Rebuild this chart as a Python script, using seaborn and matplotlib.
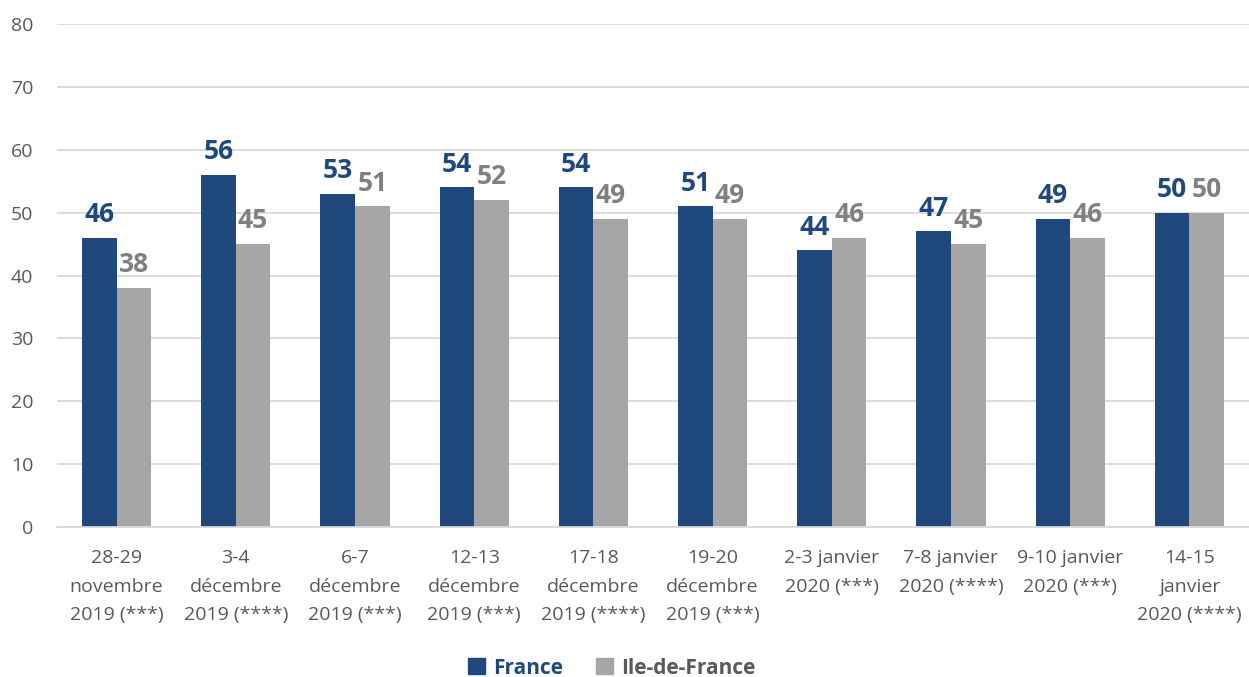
import pandas as pd
import matplotlib
matplotlib.use("Agg")
import matplotlib.pyplot as plt
import seaborn as sns

# Data
categories = [
    "28-29\nnovembre\n2019 (***)",
    "3-4\ndécembre\n2019 (****)",
    "6-7\ndécembre\n2019 (***)",
    "12-13\ndécembre\n2019 (***)",
    "17-18\ndécembre\n2019 (****)",
    "19-20\ndécembre\n2019 (***)",
    "2-3 janvier\n2020 (***)",
    "7-8 janvier\n2020 (****)",
    "9-10 janvier\n2020 (***)",
    "14-15\njanvier\n2020 (****)",
]
france = [46, 56, 53, 54, 54, 51, 44, 47, 49, 50]
idf = [38, 45, 51, 52, 49, 49, 46, 45, 46, 50]
series_names = ["France", "Ile-de-France"]

blue = "#1f497d"
grey = "#a6a6a6"
label_colors = [blue, "#808080"]
legend_text_colors = [blue, "#595959"]

df = pd.DataFrame({
    "cat": categories * 2,
    "serie": [series_names[0]] * len(categories) + [series_names[1]] * len(categories),
    "val": france + idf,
})

sns.set_style("white")
plt.rcParams["font.family"] = ["Open Sans", "DejaVu Sans"]

fig = plt.figure(figsize=(12.49, 6.77), dpi=100)
ax = fig.add_axes([0.0456, 0.2216, 0.9544, 0.7429])

sns.barplot(data=df, x="cat", y="val", hue="serie", palette=[blue, grey],
            width=0.58, gap=0, saturation=1, linewidth=0, ax=ax, legend=False)

# value labels above the bars
for cont, col in zip(ax.containers, label_colors):
    ax.bar_label(cont, padding=7, color=col, fontsize=19, fontweight="bold")

ax.set_ylim(0, 80)
ax.set_yticks(range(0, 81, 10))
ax.set_xlim(-0.5, len(categories) - 0.5)
ax.set_xlabel("")
ax.set_ylabel("")
ax.yaxis.grid(True, color="#d9d9d9", linewidth=1.3)
ax.set_axisbelow(True)
for s in ["left", "right", "top"]:
    ax.spines[s].set_visible(False)
ax.spines["bottom"].set_color("#d9d9d9")
ax.spines["bottom"].set_linewidth(1.3)
ax.tick_params(axis="both", length=0, colors="#595959", labelsize=14)
ax.tick_params(axis="x", pad=16)
ax.tick_params(axis="y", pad=17)
for t in ax.get_xticklabels():
    t.set_linespacing(1.75)

handles = [plt.Rectangle((0, 0), 1, 1, color=c) for c in [blue, grey]]
leg = fig.legend(handles, series_names, loc="center", bbox_to_anchor=(0.49, 0.013),
                 ncol=2, frameon=False, handlelength=0.8, handleheight=0.8,
                 handletextpad=0.4, columnspacing=1.6,
                 prop={"size": 15, "weight": "bold"})
for t, c in zip(leg.get_texts(), legend_text_colors):
    t.set_color(c)

fig.savefig("out.png", dpi=100)
